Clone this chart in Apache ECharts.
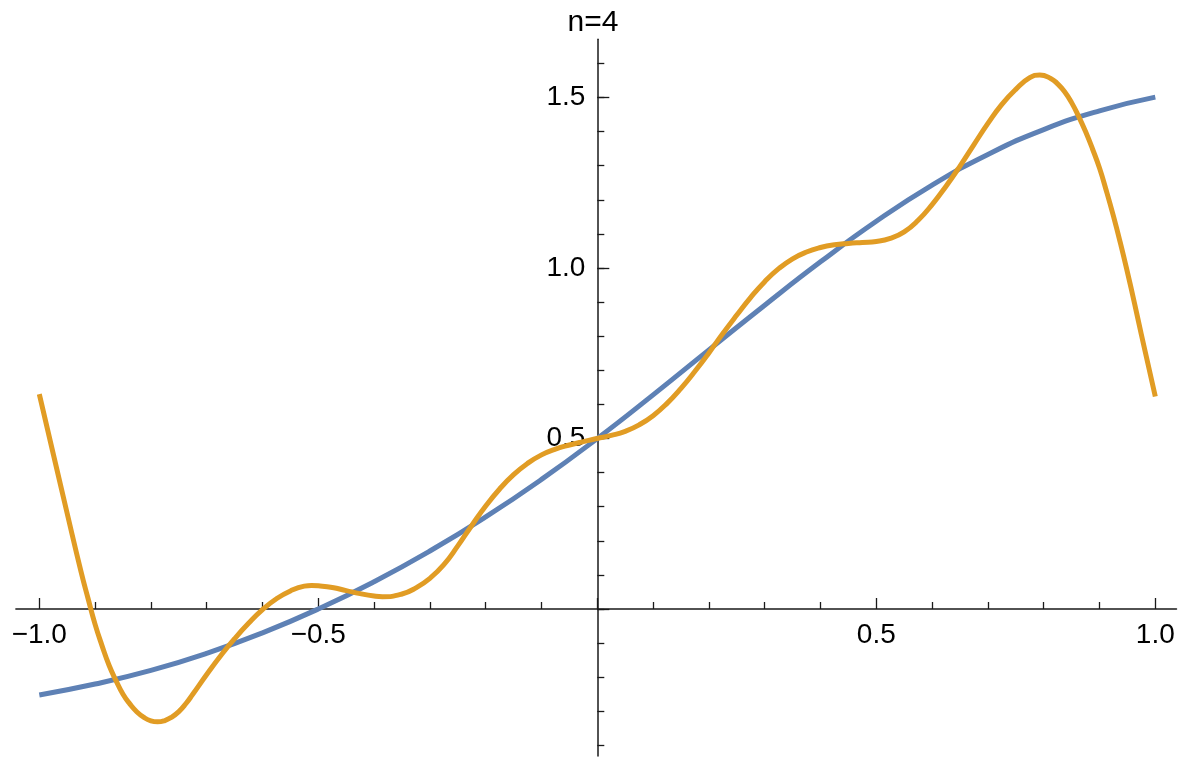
<!DOCTYPE html>
<html>
<head>
<meta charset="utf-8">
<title>n=4</title>
<script src="https://cdn.jsdelivr.net/npm/echarts@6/dist/echarts.min.js"></script>
<style>
  html, body { margin: 0; padding: 0; background: #fff; }
  #chart { width: 1186px; height: 759px; }
</style>
</head>
<body>
<div id="chart"></div>
<script>
// blue curve, every 0.1
const blueX = [-1.0, -0.9, -0.8, -0.7, -0.6, -0.5, -0.4, -0.3, -0.2, -0.1, 0.0,
  0.1, 0.2, 0.3, 0.4, 0.5, 0.6, 0.7, 0.8, 0.9, 1.0];
const blueY = [-0.252, -0.220, -0.180, -0.130, -0.070, 0.000, 0.080, 0.170, 0.270, 0.380, 0.500,
  0.628, 0.760, 0.891, 1.018, 1.137, 1.243, 1.333, 1.406, 1.461, 1.501];

// orange curve (n=4), read about every 0.025, plus the turning points
const orangeX = [-1.0, -0.975, -0.95, -0.925, -0.9125, -0.9, -0.8875, -0.875, -0.8625, -0.85,
  -0.8375, -0.825, -0.8125, -0.8, -0.788, -0.775, -0.7625, -0.75, -0.7375, -0.725,
  -0.7, -0.675, -0.65, -0.625, -0.6, -0.575, -0.55, -0.525, -0.512, -0.5,
  -0.475, -0.45, -0.425, -0.4, -0.385, -0.35, -0.325, -0.3, -0.275,
  -0.25, -0.225, -0.2, -0.175, -0.15, -0.125, -0.1, -0.075, -0.05, -0.025,
  0.0, 0.025, 0.05, 0.075, 0.1, 0.125, 0.15, 0.175, 0.2, 0.225,
  0.25, 0.275, 0.3, 0.325, 0.35, 0.375, 0.4, 0.425, 0.45, 0.475,
  0.5, 0.525, 0.55, 0.575, 0.6, 0.625, 0.65, 0.675, 0.7, 0.725,
  0.75, 0.775, 0.793, 0.8125, 0.825, 0.8375, 0.85, 0.8625, 0.875, 0.8875,
  0.9, 0.9125, 0.925, 0.9375, 0.95, 0.9625, 0.975, 0.9875, 1.0];
const orangeY = [0.630, 0.455, 0.280, 0.108, 0.030, -0.045, -0.108, -0.165, -0.210, -0.250,
  -0.279, -0.302, -0.318, -0.328, -0.331, -0.327, -0.317, -0.301, -0.278, -0.250,
  -0.192, -0.137, -0.087, -0.042, -0.002, 0.030, 0.053, 0.067, 0.069, 0.068,
  0.063, 0.054, 0.045, 0.038, 0.036, 0.044, 0.062, 0.090, 0.130,
  0.185, 0.245, 0.302, 0.352, 0.394, 0.427, 0.452, 0.469, 0.481, 0.491,
  0.500, 0.509, 0.521, 0.540, 0.567, 0.603, 0.647, 0.697, 0.751, 0.808,
  0.862, 0.914, 0.960, 0.998, 1.027, 1.047, 1.060, 1.068, 1.072, 1.075,
  1.078, 1.087, 1.106, 1.140, 1.186, 1.240, 1.299, 1.362, 1.424, 1.480,
  1.524, 1.558, 1.566, 1.556, 1.540, 1.517, 1.485, 1.445, 1.400, 1.349,
  1.293, 1.225, 1.152, 1.073, 0.988, 0.898, 0.805, 0.714, 0.623];

const xTickLabels = ['−1.0', '−0.5', '', '0.5', '1.0'];
const yTickLabels = ['', '0.5', '1.0', '1.5'];

// plot range (with Mathematica-like padding) and pixel mapping
const xMin = -1.042, xMax = 1.038;
const yMin = -0.431, yMax = 1.671;
const W = 1186, H = 759;
const x0 = 597.3, xUnit = 558;
const y0 = 609, yUnit = 341;
const xPx = v => x0 + xUnit * v;
const yPx = v => y0 - yUnit * v;

const font = '"Liberation Sans", Arial, sans-serif';
const ink = '#1a1a1a';

let chart = echarts.init(document.getElementById('chart'));

const hidden = { show: false, type: 'value' };

chart.setOption({
  animation: false,
  title: {
    text: 'n=4',
    left: 'center',
    top: 3,
    textStyle: { fontFamily: font, fontSize: 30, fontWeight: 'normal', color: '#000' }
  },
  grid: [
    // data + axis lines
    { left: xPx(xMin), right: W - xPx(xMax), top: yPx(yMax), bottom: H - yPx(yMin) },
    // x ticks and labels
    { left: xPx(-1), right: W - xPx(1), top: 100, bottom: H - yPx(0) },
    // y major ticks and labels
    { left: xPx(0), right: 100, top: yPx(1.5), bottom: H - yPx(0) },
    // y minor ticks
    { left: xPx(0), right: 100, top: yPx(1.6), bottom: H - yPx(-0.4) }
  ],
  xAxis: [
    {
      type: 'value', gridIndex: 0, min: xMin, max: xMax,
      axisLine: { onZero: true, lineStyle: { color: ink, width: 1.5 } },
      axisTick: { show: false }, axisLabel: { show: false }, splitLine: { show: false }
    },
    {
      type: 'value', gridIndex: 1, min: -1, max: 1, interval: 0.5, position: 'bottom',
      axisLine: { show: false, onZero: false },
      axisTick: { show: true, inside: true, length: 11, lineStyle: { color: ink, width: 1.3 } },
      minorTick: { show: true, splitNumber: 5, length: 7, lineStyle: { color: ink, width: 1.3 } },
      axisLabel: {
        margin: 12, color: '#000', fontFamily: font, fontSize: 28,
        formatter: v => xTickLabels[Math.round((v + 1) * 2)]
      },
      splitLine: { show: false }
    },
    Object.assign({ gridIndex: 2, min: -1, max: 1 }, hidden),
    Object.assign({ gridIndex: 3, min: -1, max: 1 }, hidden)
  ],
  yAxis: [
    {
      type: 'value', gridIndex: 0, min: yMin, max: yMax,
      axisLine: { onZero: true, lineStyle: { color: ink, width: 1.5 } },
      axisTick: { show: false }, axisLabel: { show: false }, splitLine: { show: false }
    },
    Object.assign({ gridIndex: 1, min: 0, max: 1 }, hidden),
    {
      type: 'value', gridIndex: 2, min: 0, max: 1.5, interval: 0.5, position: 'left',
      axisLine: { show: false, onZero: false },
      axisTick: { show: true, inside: true, length: 12, lineStyle: { color: ink, width: 1.3 } },
      axisLabel: {
        margin: 12, color: '#000', fontFamily: font, fontSize: 28,
        formatter: v => yTickLabels[Math.round(v * 2)]
      },
      splitLine: { show: false }
    },
    {
      type: 'value', gridIndex: 3, min: -0.4, max: 1.6, interval: 0.1, position: 'left',
      axisLine: { show: false, onZero: false },
      axisTick: { show: true, inside: true, length: 7, lineStyle: { color: ink, width: 1.3 } },
      axisLabel: { show: false },
      splitLine: { show: false }
    }
  ],
  series: [
    {
      type: 'line', xAxisIndex: 0, yAxisIndex: 0,
      data: blueX.map((x, i) => [x, blueY[i]]),
      smooth: true, showSymbol: false, silent: true,
      lineStyle: { color: '#5E81B5', width: 5 }
    },
    {
      type: 'line', xAxisIndex: 0, yAxisIndex: 0,
      data: orangeX.map((x, i) => [x, orangeY[i]]),
      smooth: true, showSymbol: false, silent: true,
      lineStyle: { color: '#E19C24', width: 5 }
    }
  ]
});
</script>
</body>
</html>
